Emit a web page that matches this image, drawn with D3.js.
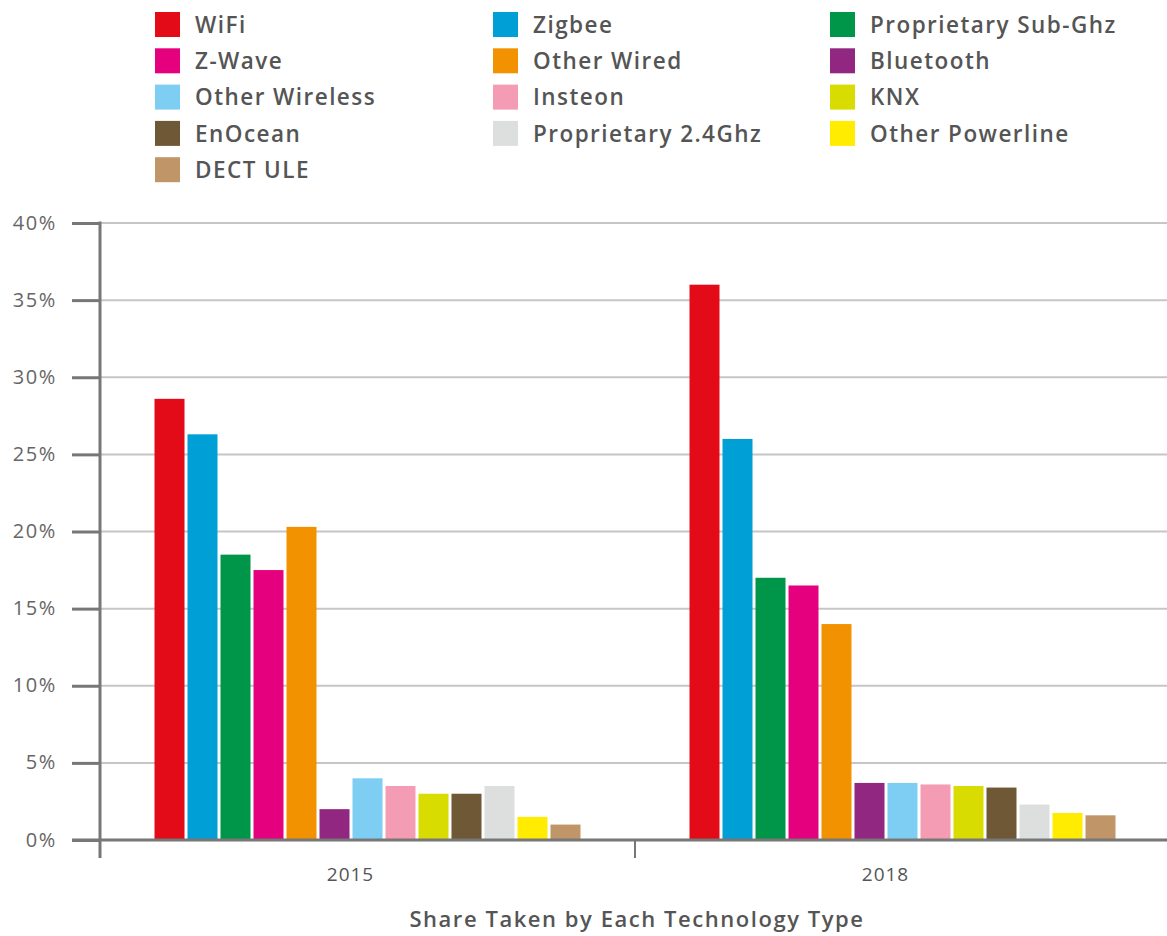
<!DOCTYPE html>
<html><head><meta charset="utf-8">
<script src="https://cdn.jsdelivr.net/npm/d3@7"></script>
<style>body{margin:0;background:#fff}svg{display:block}</style>
</head><body>
<svg id="chart" width="1167" height="936"></svg>
<script>
const years = ["2015", "2018"];
const series = ["WiFi","Zigbee","Proprietary Sub-Ghz","Z-Wave","Other Wired","Bluetooth","Other Wireless","Insteon","KNX","EnOcean","Proprietary 2.4Ghz","Other Powerline","DECT ULE"];
const colors = ["#E30B17","#00A0D6","#00964A","#E5007E","#F39200","#912781","#7ECEF4","#F49CB3","#D9DC00","#6F5836","#DDDFDE","#FFEC00","#C09668"];
const values2015 = [28.6, 26.3, 18.5, 17.5, 20.3, 2.0, 4.0, 3.5, 3.0, 3.0, 3.5, 1.5, 1.0];
const values2018 = [36.0, 26.0, 17.0, 16.5, 14.0, 3.7, 3.7, 3.6, 3.5, 3.4, 2.3, 1.75, 1.6];
const yTicks = [0, 5, 10, 15, 20, 25, 30, 35, 40];
const xTitle = "Share Taken by Each Technology Type";

const valuesByYear = {"2015": values2015, "2018": values2018};
const svg = d3.select("#chart");
const fontFam = "'Open Sans', 'Noto Sans', sans-serif";

const x0 = d3.scaleBand().domain(years).range([100, 1170]).padding(0);
const innerW = 426;
const x1 = d3.scaleBand().domain(series).range([0, innerW]).paddingInner(3/33).paddingOuter(0);
const y = d3.scaleLinear().domain([0, 40]).range([840, 223]);
const color = d3.scaleOrdinal().domain(series).range(colors);

// gridlines
svg.append("g").selectAll("line").data(yTicks.filter(d => d > 0)).join("line")
  .attr("x1", 100).attr("x2", 1167)
  .attr("y1", d => y(d)).attr("y2", d => y(d))
  .attr("stroke", "#c6c6c6").attr("stroke-width", 2);

// bars
const groups = svg.append("g").selectAll("g").data(years).join("g")
  .attr("transform", d => `translate(${x0(d) + (x0.bandwidth() - innerW) / 2},0)`);
groups.selectAll("rect").data(yr => series.map((s, i) => ({s, v: valuesByYear[yr][i]}))).join("rect")
  .attr("x", d => x1(d.s)).attr("width", x1.bandwidth())
  .attr("y", d => y(d.v)).attr("height", d => y(0) - y(d.v))
  .attr("fill", d => color(d.s));

// y axis
const yAxis = d3.axisLeft(y).tickValues(yTicks).tickFormat(d => d + "%").tickSize(28).tickPadding(15);
const yg = svg.append("g").attr("transform", "translate(100,0)").call(yAxis);
yg.select(".domain").remove();
yg.selectAll(".tick line").attr("stroke", "#777").attr("stroke-width", 3);
yg.selectAll(".tick text").attr("fill", "#666").style("font-family", fontFam).style("font-size", "20px")
  .style("letter-spacing", "1.6px").attr("dy", "0.3em");
svg.append("line").attr("x1", 100).attr("x2", 100).attr("y1", y(40) - 1.5).attr("y2", 858)
  .attr("stroke", "#777").attr("stroke-width", 3);

// x axis
const xAxis = d3.axisBottom(x0).tickSize(0).tickPadding(0);
const xg = svg.append("g").attr("transform", "translate(0,840)").call(xAxis);
xg.select(".domain").remove();
xg.selectAll(".tick line").remove();
xg.selectAll(".tick text").attr("fill", "#555").attr("dx", -17).attr("y", 28)
  .style("font-family", fontFam).style("font-size", "19px").style("letter-spacing", "1px");
svg.append("line").attr("x1", 72).attr("x2", 1167).attr("y1", 840).attr("y2", 840)
  .attr("stroke", "#777").attr("stroke-width", 3);
svg.append("g").selectAll("line").data(years.slice(1)).join("line")
  .attr("x1", d => x0(d)).attr("x2", d => x0(d)).attr("y1", 840).attr("y2", 858)
  .attr("stroke", "#777").attr("stroke-width", 2);

// axis title
svg.append("text").attr("x", 637).attr("y", 927).attr("text-anchor", "middle")
  .attr("fill", "#555").style("font-family", fontFam).style("font-size", "22px").style("font-weight", 600)
  .style("letter-spacing", "1.55px")
  .text(xTitle);

// legend
const colX = [155, 493, 830];
const legend = svg.append("g").selectAll("g").data(series).join("g")
  .attr("transform", (d, i) => `translate(${colX[i % 3]},${12 + Math.floor(i / 3) * 36.3})`);
legend.append("rect").attr("width", 25).attr("height", 25).attr("fill", d => color(d));
legend.append("text").attr("x", 40).attr("y", 12.5).attr("dy", "0.36em")
  .attr("fill", "#555").style("font-family", fontFam).style("font-size", "22.5px").style("font-weight", 600)
  .style("letter-spacing", "1.45px")
  .text(d => d);
</script>
</body></html>
